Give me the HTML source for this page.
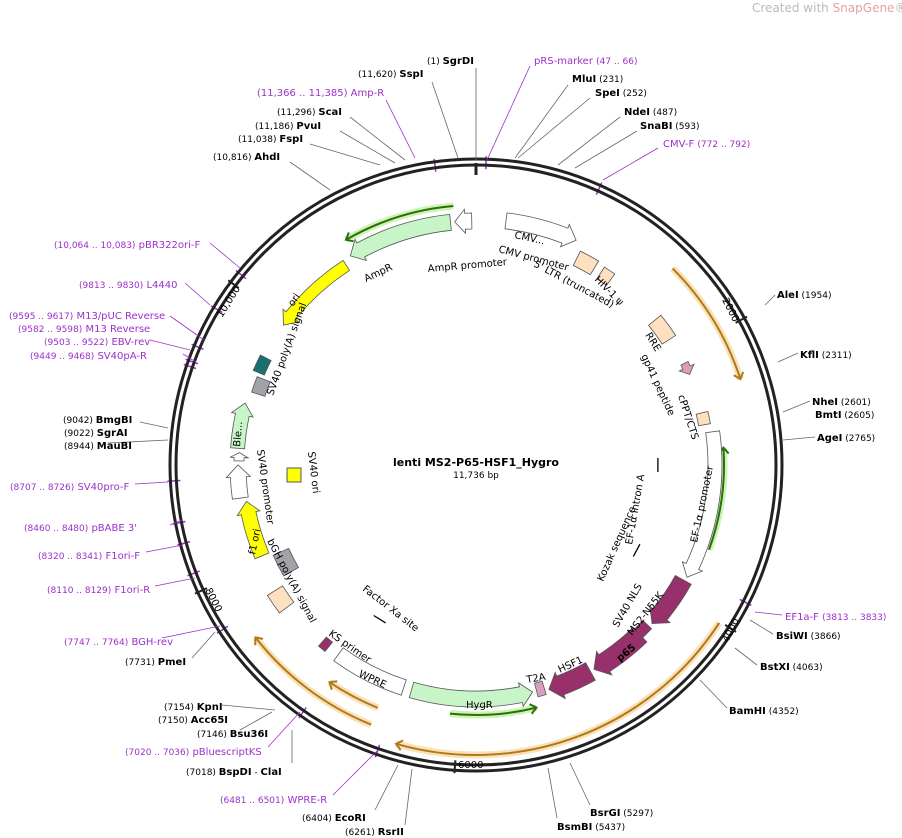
<!DOCTYPE html>
<html><head><meta charset="utf-8"><style>
body{margin:0;background:#fff}
svg{display:block;font-family:"DejaVu Sans","Liberation Sans",sans-serif}
.n{font-size:10px;font-weight:bold;fill:#000}
.p{font-size:9px;fill:#000}
.u{font-size:10px;fill:#9b30c8}
.f{font-size:10px;fill:#000}
line{stroke:#666;stroke-width:0.8}
line.pu{stroke:#9b30c8}
</style></head><body>
<svg id="s" width="902" height="838" viewBox="0 0 902 838" xmlns="http://www.w3.org/2000/svg">
<text x="752" y="12" font-size="12" fill="#bbb">Created with <tspan fill="#e8a0a0">SnapGene</tspan>®</text>
<g id="shapes"></g>
<circle cx="476" cy="465" r="306" fill="none" stroke="#222" stroke-width="3"/>
<circle cx="476" cy="465" r="300" fill="none" stroke="#222" stroke-width="3"/>
<line x1="476" y1="163" x2="476" y2="175" style="stroke:#222;stroke-width:3"/>

<line x1="476" y1="160" x2="476" y2="68"/>
<line x1="458" y1="158" x2="432" y2="82"/>
<line class="pu" x1="415" y1="158" x2="386" y2="100"/>
<line x1="405" y1="160" x2="350" y2="117"/>
<line x1="395" y1="163" x2="340" y2="131"/>
<line x1="380" y1="165" x2="310" y2="144"/>
<line x1="330" y1="190" x2="290" y2="162"/>
<line class="pu" x1="487" y1="160" x2="530" y2="66"/>
<line x1="515" y1="158" x2="568" y2="85"/>
<line x1="518" y1="158" x2="590" y2="98"/>
<line x1="558" y1="165" x2="620" y2="117"/>
<line x1="575" y1="168" x2="637" y2="131"/>
<line class="pu" x1="603" y1="180" x2="658" y2="148"/>
<line x1="765" y1="305" x2="775" y2="295"/>
<line x1="778" y1="362" x2="798" y2="353"/>
<line x1="783" y1="412" x2="810" y2="401"/>
<line x1="783" y1="440" x2="815" y2="437"/>
<line class="pu" x1="755" y1="612" x2="782" y2="615"/>
<line x1="750" y1="620" x2="773" y2="634"/>
<line x1="735" y1="648" x2="757" y2="665"/>
<line x1="700" y1="680" x2="727" y2="708"/>
<line x1="570" y1="763" x2="590" y2="805"/>
<line x1="548" y1="768" x2="557" y2="818"/>
<line x1="398" y1="765" x2="375" y2="810"/>
<line x1="412" y1="769" x2="405" y2="825"/>
<line class="pu" x1="378" y1="750" x2="333" y2="795"/>
<line x1="292" y1="730" x2="292" y2="763"/>
<line class="pu" x1="300" y1="712" x2="268" y2="747"/>
<line x1="272" y1="712" x2="240" y2="730"/>
<line x1="275" y1="710" x2="222" y2="705"/>
<line x1="215" y1="632" x2="192" y2="658"/>
<line class="pu" x1="220" y1="626" x2="162" y2="638"/>
<line class="pu" x1="195" y1="578" x2="155" y2="586"/>
<line class="pu" x1="183" y1="545" x2="146" y2="552"/>
<line class="pu" x1="182" y1="520" x2="170" y2="525"/>
<line class="pu" x1="168" y1="482" x2="135" y2="484"/>
<line x1="168" y1="440" x2="108" y2="443"/>
<line x1="168" y1="428" x2="140" y2="422"/>
<line class="pu" x1="196" y1="362" x2="183" y2="354"/>
<line class="pu" x1="190" y1="350" x2="150" y2="340"/>
<line class="pu" x1="204" y1="340" x2="170" y2="316"/>
<line class="pu" x1="210" y1="305" x2="185" y2="283"/>
<line class="pu" x1="240" y1="268" x2="210" y2="243"/>

<text x="427" y="64"><tspan class="p">(1) </tspan><tspan class="n">SgrDI</tspan></text>
<text x="358" y="77"><tspan class="p">(11,620) </tspan><tspan class="n">SspI</tspan></text>
<text x="257" y="96" class="u" font-size="9">(11,366 .. 11,385)  Amp-R</text>
<text x="277" y="115"><tspan class="p">(11,296) </tspan><tspan class="n">ScaI</tspan></text>
<text x="255" y="129"><tspan class="p">(11,186) </tspan><tspan class="n">PvuI</tspan></text>
<text x="238" y="142"><tspan class="p">(11,038) </tspan><tspan class="n">FspI</tspan></text>
<text x="213" y="160"><tspan class="p">(10,816) </tspan><tspan class="n">AhdI</tspan></text>
<text x="534" y="64" class="u">pRS-marker  <tspan font-size="9">(47 .. 66)</tspan></text>
<text x="572" y="82"><tspan class="n">MluI</tspan><tspan class="p">  (231)</tspan></text>
<text x="595" y="96"><tspan class="n">SpeI</tspan><tspan class="p">  (252)</tspan></text>
<text x="624" y="115"><tspan class="n">NdeI</tspan><tspan class="p">  (487)</tspan></text>
<text x="640" y="129"><tspan class="n">SnaBI</tspan><tspan class="p">  (593)</tspan></text>
<text x="663" y="147" class="u">CMV-F  <tspan font-size="9">(772 .. 792)</tspan></text>
<text x="777" y="298"><tspan class="n">AleI</tspan><tspan class="p">  (1954)</tspan></text>
<text x="800" y="358"><tspan class="n">KflI</tspan><tspan class="p">  (2311)</tspan></text>
<text x="812" y="405"><tspan class="n">NheI</tspan><tspan class="p">  (2601)</tspan></text>
<text x="815" y="418"><tspan class="n">BmtI</tspan><tspan class="p">  (2605)</tspan></text>
<text x="817" y="441"><tspan class="n">AgeI</tspan><tspan class="p">  (2765)</tspan></text>
<text x="785" y="620" class="u">EF1a-F  <tspan font-size="9">(3813 .. 3833)</tspan></text>
<text x="776" y="639"><tspan class="n">BsiWI</tspan><tspan class="p">  (3866)</tspan></text>
<text x="760" y="670"><tspan class="n">BstXI</tspan><tspan class="p">  (4063)</tspan></text>
<text x="729" y="714"><tspan class="n">BamHI</tspan><tspan class="p">  (4352)</tspan></text>
<text x="590" y="816"><tspan class="n">BsrGI</tspan><tspan class="p">  (5297)</tspan></text>
<text x="557" y="830"><tspan class="n">BsmBI</tspan><tspan class="p">  (5437)</tspan></text>
<text x="302" y="821"><tspan class="p">(6404) </tspan><tspan class="n">EcoRI</tspan></text>
<text x="345" y="835"><tspan class="p">(6261) </tspan><tspan class="n">RsrII</tspan></text>
<text x="220" y="803" class="u"><tspan font-size="9">(6481 .. 6501)</tspan>  WPRE-R</text>
<text x="186" y="775"><tspan class="p">(7018) </tspan><tspan class="n">BspDI</tspan><tspan class="p"> - </tspan><tspan class="n">ClaI</tspan></text>
<text x="125" y="755" class="u"><tspan font-size="9">(7020 .. 7036)</tspan>  pBluescriptKS</text>
<text x="197" y="737"><tspan class="p">(7146) </tspan><tspan class="n">Bsu36I</tspan></text>
<text x="158" y="723"><tspan class="p">(7150) </tspan><tspan class="n">Acc65I</tspan></text>
<text x="164" y="710"><tspan class="p">(7154) </tspan><tspan class="n">KpnI</tspan></text>
<text x="125" y="665"><tspan class="p">(7731) </tspan><tspan class="n">PmeI</tspan></text>
<text x="64" y="645" class="u"><tspan font-size="9">(7747 .. 7764)</tspan>  BGH-rev</text>
<text x="47" y="593" class="u"><tspan font-size="9">(8110 .. 8129)</tspan>  F1ori-R</text>
<text x="38" y="559" class="u"><tspan font-size="9">(8320 .. 8341)</tspan>  F1ori-F</text>
<text x="24" y="531" class="u"><tspan font-size="9">(8460 .. 8480)</tspan>  pBABE 3'</text>
<text x="10" y="490" class="u"><tspan font-size="9">(8707 .. 8726)</tspan>  SV40pro-F</text>
<text x="64" y="449"><tspan class="p">(8944) </tspan><tspan class="n">MauBI</tspan></text>
<text x="64" y="436"><tspan class="p">(9022) </tspan><tspan class="n">SgrAI</tspan></text>
<text x="63" y="423"><tspan class="p">(9042) </tspan><tspan class="n">BmgBI</tspan></text>
<text x="30" y="359" class="u"><tspan font-size="9">(9449 .. 9468)</tspan>  SV40pA-R</text>
<text x="44" y="345" class="u"><tspan font-size="9">(9503 .. 9522)</tspan>  EBV-rev</text>
<text x="18" y="332" class="u"><tspan font-size="9">(9582 .. 9598)</tspan>  M13 Reverse</text>
<text x="9" y="319" class="u"><tspan font-size="9">(9595 .. 9617)</tspan>  M13/pUC Reverse</text>
<text x="79" y="288" class="u"><tspan font-size="9">(9813 .. 9830)</tspan>  L4440</text>
<text x="54" y="248" class="u"><tspan font-size="9">(10,064 .. 10,083)</tspan>  pBR322ori-F</text>

<text class="f" transform="translate(722,300) rotate(63)">2000</text>
<text class="f" transform="translate(728,643) rotate(-63)">4000</text>
<text class="f" x="458" y="768">6000</text>
<text class="f" transform="translate(205,590) rotate(63)">8000</text>
<text class="f" transform="translate(222,318) rotate(-58)">10,000</text>

<text x="476" y="466" text-anchor="middle" font-size="11" font-weight="bold">lenti MS2-P65-HSF1_Hygro</text>
<text x="476" y="478" text-anchor="middle" font-size="9">11,736 bp</text>

<text class="f" transform="translate(366,282) rotate(-25)">AmpR</text>
<text class="f" transform="translate(428,272) rotate(-5)">AmpR promoter</text>
<text class="f" transform="translate(514,238) rotate(12)">CMV...</text>
<text class="f" transform="translate(498,252) rotate(15)">CMV promoter</text>
<text class="f" transform="translate(533,266) rotate(28)">5' LTR (truncated)</text>
<text class="f" transform="translate(594,280) rotate(45)">HIV-1 ψ</text>
<text class="f" transform="translate(645,335) rotate(58)">RRE</text>
<text class="f" transform="translate(641,356) rotate(65)">gp41 peptide</text>
<text class="f" transform="translate(678,396) rotate(72)">cPPT/CTS</text>
<text class="f" transform="translate(697,543) rotate(-78)">EF-1α promoter</text>
<text class="f" transform="translate(632,545) rotate(-80)">EF-1α intron A</text>
<text class="f" transform="translate(603,582) rotate(-66)">Kozak sequence</text>
<text class="f" transform="translate(618,628) rotate(-60)">SV40 NLS</text>
<text class="f" transform="translate(632,636) rotate(-52)">MS2-N55K</text>
<text class="f" font-size="10" fill="#fff" font-weight="bold" transform="translate(620,662) rotate(-40)">p65</text>
<text class="f" transform="translate(560,673) rotate(-25)">HSF1</text>
<text class="f" transform="translate(527,683) rotate(-10)">T2A</text>
<text class="f" x="466" y="708">HygR</text>
<text class="f" transform="translate(358,676) rotate(25)">WPRE</text>
<text class="f" transform="translate(328,635) rotate(35)">KS primer</text>
<text class="f" transform="translate(362,590) rotate(38)">Factor Xa site</text>
<text class="f" transform="translate(267,541) rotate(62)">bGH poly(A) signal</text>
<text class="f" font-size="9" transform="translate(255,555) rotate(-78)">f1 ori</text>
<text class="f" transform="translate(257,450) rotate(82)">SV40 promoter</text>
<text class="f" font-size="9" transform="translate(240,447) rotate(-85)">Ble...</text>
<text class="f" transform="translate(308,452) rotate(83)">SV40 ori</text>
<text class="f" transform="translate(273,396) rotate(-70)">SV40 poly(A) signal</text>
<text class="f" transform="translate(293,307) rotate(-55)">ori</text>
</svg>
<script>
(function(){
var cx=476,cy=465,g=document.getElementById('shapes'),NS='http://www.w3.org/2000/svg';
function P(r,a){a=a*Math.PI/180;return (cx+r*Math.sin(a)).toFixed(1)+','+(cy-r*Math.cos(a)).toFixed(1);}
function el(t,at){var e=document.createElementNS(NS,t);for(var k in at)e.setAttribute(k,at[k]);g.appendChild(e);return e;}
function arc(r,a1,a2){return 'A'+r+','+r+' 0 '+((a2-a1)>180?1:0)+' 1 '+P(r,a2);}
function arcb(r,a1,a2){return 'A'+r+','+r+' 0 '+((a2-a1)>180?1:0)+' 0 '+P(r,a1);}
function feat(r1,r2,a1,a2,dir,fill,stroke){
 var rm=(r1+r2)/2,h=Math.min(12*57.3/rm,(a2-a1)*0.6),d;
 if(dir==1){d='M'+P(r2,a1)+arc(r2,a1,a2-h)+'L'+P(r2+4,a2-h)+'L'+P(rm,a2)+'L'+P(r1-4,a2-h)+'L'+P(r1,a2-h)+arcb(r1,a1,a2-h)+'Z';}
 else if(dir==-1){d='M'+P(rm,a1)+'L'+P(r2+4,a1+h)+'L'+P(r2,a1+h)+arc(r2,a1+h,a2)+'L'+P(r1,a2)+arcb(r1,a1+h,a2)+'L'+P(r1-4,a1+h)+'Z';}
 else {d='M'+P(r2,a1)+arc(r2,a1,a2)+'L'+P(r1,a2)+arcb(r1,a1,a2)+'Z';}
 el('path',{d:d,fill:fill,stroke:stroke||'#555','stroke-width':0.8});
}
function line(r,a1,a2,dir,col,glow){
 el('path',{d:'M'+P(r,a1)+arc(r,a1,a2),fill:'none',stroke:glow,'stroke-width':7,'stroke-opacity':0.7});
 el('path',{d:'M'+P(r,a1)+arc(r,a1,a2),fill:'none',stroke:col,'stroke-width':2});
 var a=dir==1?a2:a1,s=dir==1?-1:1,dd=6*57.3/r;
 el('path',{d:'M'+P(r-5,a+s*dd)+'L'+P(r,a)+'L'+P(r+5,a+s*dd),fill:'none',stroke:col,'stroke-width':2});
}
function ttick(r,a){el('path',{d:'M'+P(r,a-2.2)+'L'+P(r,a+2.2),stroke:'#000','stroke-width':1.3});}
var GR='#c8f5c8',PE='#fde0c0',PU='#97306b';
line(260,-30,-5,-1,'#2a6e10','#b8f090');
line(278,45,72,1,'#b07a1a','#f8d498');
line(290,123,196,1,'#b07a1a','#f8d498');
line(280,202,232,1,'#b07a1a','#f8d498');
line(262,202,214,1,'#b07a1a','#f8d498');
line(248,86,110,-1,'#2a6e10','#b8f090');
line(250,166,186,-1,'#2a6e10','#b8f090');
feat(236,252,-31,-6,-1,GR);
feat(236,252,-5,-1,-1,'#fff');
feat(238,254,7,24,1,'#fff');
feat(222,238,26,31,0,PE);
feat(222,236,33,36,0,PE);
feat(222,238,51,57,0,PE);
feat(228,236,64,67,1,'#d8a0c0');
feat(226,238,77,80,0,PE);
feat(232,246,82,118,1,'#fff');
feat(228,246,119,132,1,PU);
feat(228,240,133,136,0,PU);
feat(226,246,136,150,1,PU);
feat(226,246,151,162,1,PU);
feat(226,240,163,165,0,'#d8a0c0');
feat(226,242,166,196,-1,GR);
feat(226,242,198,216,0,'#fff');
feat(228,240,219,221,0,PU);
feat(228,246,233,238,0,PE);
feat(205,222,240,246,0,'#a0a4a8');
feat(225,240,247,261,1,'#ffff00');
feat(230,246,262,270,1,'#fff');
feat(232,242,271,273,1,'#fff');
feat(232,246,274,285,1,GR);
feat(222,236,288,292,0,'#a0a4a8');
feat(230,242,293,297,0,'#1a7070');
feat(232,244,-54,-33,-1,'#ffff00');
ttick(182,90);ttick(182,118);ttick(182,212);
el('rect',{x:287,y:468,width:14,height:14,fill:'#ffff00',stroke:'#555'});
[1.9,-7.8,24,117,199,215,237,249,255,259,267,289,290,293,301,309].forEach(function(a){
 el('path',{d:'M'+P(296,a)+'L'+P(309,a),stroke:'#9b30c8','stroke-width':1.5});});
[61.3,122.7,184,245.4,306.7].forEach(function(a){
 el('path',{d:'M'+P(296,a)+'L'+P(309,a),stroke:'#222','stroke-width':2});});
})();
</script>
</body></html>
